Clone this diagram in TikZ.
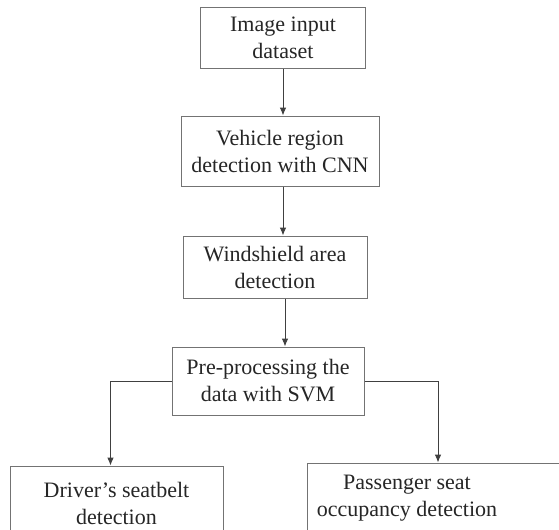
\documentclass[tikz,border=0pt]{standalone}
\usepackage{fontspec}
\setmainfont{Liberation Serif}
\usetikzlibrary{arrows.meta,calc}

\tikzstyle{stepbox}=[rectangle, draw=black!55, line width=0.75pt, fill=white, align=center, text=black!85, inner sep=0pt, font=\fontsize{16.5}{20.25}\selectfont]
\tikzstyle{arrow2} = [line width=0.75pt, draw=black!75, -{Latex[length=6pt,width=5pt]}]

\begin{document}
\begin{tikzpicture}[x=0.75pt, y=-0.75pt]
\clip (0,0) rectangle (559,529);
\node (input) [stepbox, minimum width=123.75pt, minimum height=45.75pt] at (283,37.5) {Image input\\dataset};
\node (vehicle) [stepbox, minimum width=148.5pt, minimum height=52.5pt] at (280,151) {Vehicle region\\detection with CNN};
\node (shield) [stepbox, minimum width=138pt, minimum height=46.5pt] at (275,267) {Windshield area\\detection};
\node (prep) [stepbox, minimum width=144pt, minimum height=51pt] at (268,381) {Pre-processing the\\data with SVM};
\node (belt) [stepbox, minimum width=159.75pt, minimum height=55.5pt] at (116.5,503) {Driver’s seatbelt\\detection};
\node (seat) [stepbox, minimum width=219.75pt, minimum height=55.5pt] at (453.5,500) {};
\node (seattxt) [align=center, text=black!85, font=\fontsize{16.5}{20.25}\selectfont] at (407,498) {Passenger seat\\occupancy detection};
\draw[arrow2](input)--(input.south |- vehicle.north);
\draw[arrow2]($(vehicle.south)+(3,0)$)--($(vehicle.south |- shield.north)+(3,0)$);
\draw[arrow2]($(shield.south)+(10,0)$)--($(shield.south |- prep.north)+(10,0)$);
\draw[arrow2](prep.west) -| ($(belt.north)+(-6,0)$);
\draw[arrow2](prep.east) -| ($(seat.north)+(-15.5,0)$);
\end{tikzpicture}
\end{document}
